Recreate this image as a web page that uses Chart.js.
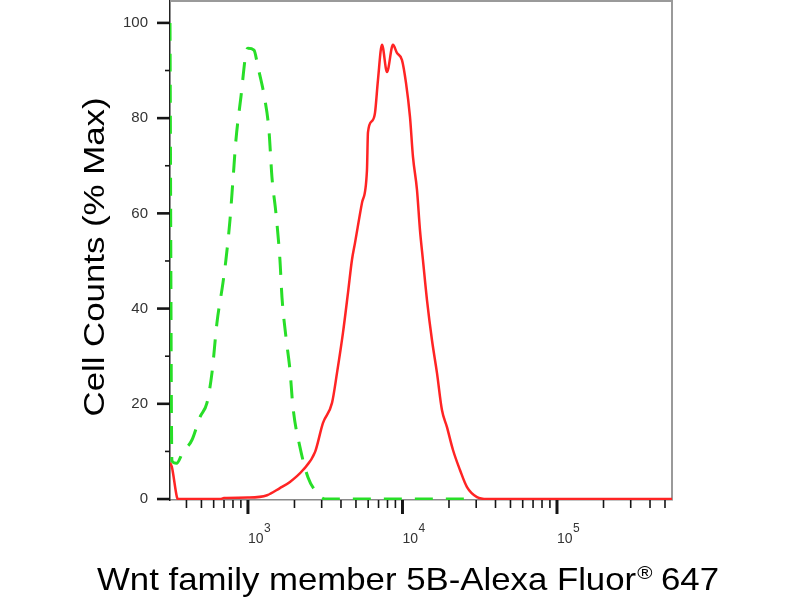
<!DOCTYPE html>
<html>
<head>
<meta charset="utf-8">
<script src="https://cdn.jsdelivr.net/npm/chart.js@4.4.0/dist/chart.umd.min.js"></script>
<style>
    html, body { margin: 0; padding: 0; background: #fff; }
</style>
</head>
<body>
<canvas id="histChart" width="800" height="600"></canvas>
<script>
// isotype control (green dashed) - intensity vs % of max
const controlX = [313, 322, 345, 380, 434, 489, 543, 585, 630, 689, 720, 765, 800, 836, 901, 971, 1000, 1094, 1160, 1288,
    1367, 1430, 1518, 1611, 1660, 1762, 1870, 1956, 2171, 2445, 2796, 3148, 10000, 30000];
const controlY = [100, 8, 7.5, 9.9, 12.4, 17.2, 20.2, 26.5, 37, 45.4, 50.2, 58.6, 67, 75.4, 84.5, 93.7, 94.7, 94.3, 90.8, 83.8,
    77.5, 67.6, 60, 50.2, 42.4, 34, 27.1, 19.3, 10.9, 4.6, 1.3, 0, 0, 0];

// stained sample (red solid)
const stainedX = [313, 322, 347, 352, 660, 700, 1000, 1330, 1610, 1870, 2270, 2720, 3060, 3500, 3770, 4120, 4440, 4710, 4930, 5470,
    5890, 5980, 6350, 6640, 6940, 7370, 7940, 8680, 9210, 9930, 10540, 11180, 11700, 12410, 12980, 13570, 14410, 15520, 16720, 18010,
    19410, 21230, 23560, 26160, 30360, 35240, 555000];
const stainedY = [7.6, 6.7, 0.4, 0, 0, 0.2, 0.3, 0.8, 2.3, 3.6, 6.1, 9.9, 16, 20.2, 26.5, 34.9, 43.3, 50.2, 53.8, 62.2,
    69, 77, 79.4, 81.1, 88, 95.4, 89.7, 95.4, 93.7, 92.2, 87.4, 80.3, 71.8, 65, 56.5, 50.2, 41.8, 33.4, 26.5, 18.7,
    15.1, 10.3, 6.1, 2.5, 0.4, 0, 0];

// axis ticks
const yTicks = [0, 20, 40, 60, 80, 100];
const yMinorTicks = [10, 30, 50, 70, 90];
const xMajorTicks = [1000, 10000, 100000];
const xMajorExp = ['3', '4', '5'];
const xMinorTicks = [400, 500, 600, 700, 800, 900,
    2000, 3000, 4000, 5000, 6000, 7000, 8000, 9000,
    20000, 30000, 40000, 50000, 60000, 70000, 80000, 90000,
    200000, 300000, 400000, 500000];

const xTitle = 'Wnt family member 5B-Alexa Fluor';
const xTitleSup = '\u00AE';
const xTitleEnd = ' 647';
const yTitle = 'Cell Counts (% Max)';

const FONT = '"Liberation Sans", Arial, sans-serif';

function toPoints(xs, ys) {
    return xs.map((v, i) => ({ x: v, y: ys[i] }));
}

function tick(ctx, x1, y1, x2, y2, w) {
    ctx.lineWidth = w;
    ctx.beginPath();
    ctx.moveTo(x1, y1);
    ctx.lineTo(x2, y2);
    ctx.stroke();
}

// frame on top and right of the plot
const framePlugin = {
    id: 'framePlugin',
    beforeDatasetsDraw(chart) {
        const { ctx, chartArea: a } = chart;
        ctx.save();
        ctx.strokeStyle = '#9a9a9a';
        ctx.lineWidth = 2;
        ctx.beginPath();
        ctx.moveTo(a.left, a.top);
        ctx.lineTo(a.right, a.top);
        ctx.lineTo(a.right, a.bottom);
        ctx.stroke();
        ctx.restore();
    }
};

// tick marks, x tick labels with exponents and axis titles
const axisPlugin = {
    id: 'axisPlugin',
    afterDraw(chart) {
        const { ctx, chartArea: a, scales: { x, y } } = chart;
        ctx.save();
        ctx.strokeStyle = '#151515';

        xMinorTicks.forEach(v => {
            const px = x.getPixelForValue(v);
            tick(ctx, px, a.bottom, px, a.bottom + 8, 1.6);
        });
        xMajorTicks.forEach(v => {
            const px = x.getPixelForValue(v);
            tick(ctx, px, a.bottom, px, a.bottom + 14, 3);
        });
        yMinorTicks.forEach(v => {
            const py = y.getPixelForValue(v);
            tick(ctx, a.left - 5, py, a.left, py, 1.6);
        });
        yTicks.forEach(v => {
            const py = y.getPixelForValue(v);
            tick(ctx, a.left - 13, py, a.left, py, 2.6);
        });

        // 10^n labels
        ctx.fillStyle = '#333';
        ctx.textBaseline = 'alphabetic';
        ctx.textAlign = 'left';
        xMajorTicks.forEach((v, i) => {
            const px = x.getPixelForValue(v);
            ctx.font = '14px ' + FONT;
            ctx.fillText('10', px, a.bottom + 43);
            const w = ctx.measureText('10').width;
            ctx.font = '12px ' + FONT;
            ctx.fillText(xMajorExp[i], px + w + 0.5, a.bottom + 32);
        });

        // x title, stretched to the reference width
        ctx.fillStyle = '#000';
        ctx.font = '32px ' + FONT;
        const w1 = ctx.measureText(xTitle).width;
        ctx.font = '19px ' + FONT;
        const w2 = ctx.measureText(xTitleSup).width;
        ctx.font = '32px ' + FONT;
        const w3 = ctx.measureText(xTitleEnd).width;
        const total = w1 + w2 + w3;
        const sx = 622 / total;
        ctx.save();
        ctx.translate(97, 590);
        ctx.scale(sx, 1);
        ctx.fillText(xTitle, 0, 0);
        ctx.font = '19px ' + FONT;
        ctx.fillText(xTitleSup, w1 + 1, -11);
        ctx.font = '32px ' + FONT;
        ctx.fillText(xTitleEnd, w1 + w2, 0);
        ctx.restore();

        // y title, rotated
        ctx.save();
        ctx.font = '30px ' + FONT;
        const wy = ctx.measureText(yTitle).width;
        ctx.translate(104, 257);
        ctx.rotate(-Math.PI / 2);
        ctx.scale(319 / wy, 1);
        ctx.textAlign = 'center';
        ctx.fillText(yTitle, 0, 0);
        ctx.restore();

        ctx.restore();
    }
};

const ctx = document.getElementById('histChart').getContext('2d');

new Chart(ctx, {
    type: 'line',
    data: {
        datasets: [
            {
                label: 'Wnt5B',
                data: toPoints(stainedX, stainedY),
                borderColor: 'rgb(255, 36, 36)',
                borderWidth: 2.5,
                pointRadius: 0,
                fill: false,
                cubicInterpolationMode: 'monotone'
            },
            {
                label: 'Isotype control',
                data: toPoints(controlX, controlY),
                borderColor: 'rgb(40, 222, 40)',
                borderWidth: 3,
                borderDash: [18, 13],
                pointRadius: 0,
                fill: false,
                cubicInterpolationMode: 'monotone'
            }
        ]
    },
    options: {
        responsive: false,
        animation: false,
        layout: { padding: { left: 0, right: 128, top: 1, bottom: 0 } },
        plugins: {
            legend: { display: false },
            tooltip: { enabled: false }
        },
        scales: {
            x: {
                type: 'logarithmic',
                min: 313,
                max: 555000,
                grid: { display: false, drawTicks: false },
                border: { display: true, color: '#8a8a8a', width: 1.5 },
                ticks: { display: false },
                afterFit: s => { s.height = 100; s.paddingLeft = 0; s.paddingRight = 0; }
            },
            y: {
                type: 'linear',
                min: -0.2,
                max: 104.6,
                grid: { display: false, drawTicks: false },
                border: { display: true, color: '#222', width: 1.5 },
                afterBuildTicks: s => { s.ticks = yTicks.map(v => ({ value: v })); },
                ticks: {
                    padding: 22,
                    color: '#333',
                    font: { family: FONT, size: 15 }
                },
                afterFit: s => { s.width = 170; s.paddingTop = 0; s.paddingBottom = 0; }
            }
        }
    },
    plugins: [framePlugin, axisPlugin]
});
</script>
</body>
</html>
